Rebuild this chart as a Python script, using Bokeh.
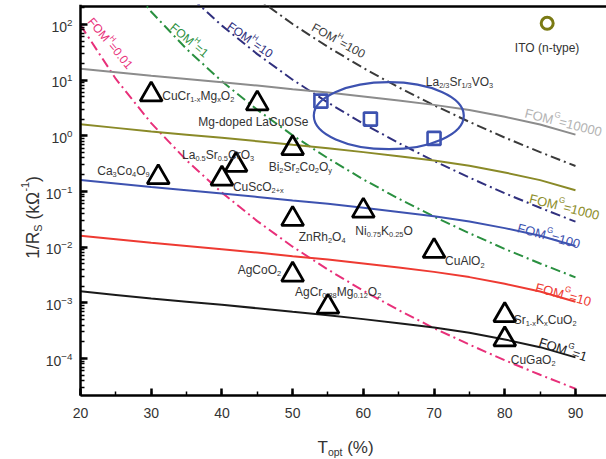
import math
from bokeh.plotting import figure
from bokeh.models import Range1d, LogTicker, SingleIntervalTicker, Label
from bokeh.embed import file_html
from bokeh.resources import INLINE

# ---------------- data ----------------
t_opt = [20, 25, 30, 35, 40, 45, 50, 55, 60, 65, 70, 75, 80, 85, 90]

# solid curves, FOM^G = const
fomg_10000 = [16.1, 13.9, 12.0, 10.5, 9.2, 8.0, 6.9, 6.0, 5.1, 4.3, 3.6, 2.9, 2.2, 1.6, 1.05]
fomg_1000 = [1.61, 1.39, 1.20, 1.05, 0.92, 0.80, 0.69, 0.60, 0.51, 0.43, 0.36, 0.29, 0.22, 0.16, 0.105]
fomg_100 = [0.161, 0.139, 0.120, 0.105, 0.092, 0.080, 0.069, 0.060, 0.051, 0.043, 0.036, 0.029, 0.022, 0.016, 0.0105]
fomg_10 = [0.0161, 0.0139, 0.0120, 0.0105, 0.0092, 0.0080, 0.0069, 0.0060, 0.0051, 0.0043, 0.0036, 0.0029, 0.0022, 0.0016, 0.00105]
fomg_1 = [0.00161, 0.00139, 0.00120, 0.00105, 0.00092, 0.00080, 0.00069, 0.00060, 0.00051, 0.00043, 0.00036, 0.00029, 0.00022, 0.00016, 0.000105]

# dash-dot curves, FOM^H = const
fomh_001 = [97.7, 10.5, 1.69, 0.363, 0.0954, 0.0294, 0.0102, 0.00395, 0.00165, 0.00074, 0.00035, 0.000178, 0.000093, 0.000051, 0.0000287]
fomh_1 = [9766, 1049, 169, 36.3, 9.54, 2.94, 1.02, 0.395, 0.165, 0.0743, 0.0354, 0.0178, 0.0093, 0.0051, 0.00287]
fomh_10 = [97660, 10490, 1694, 363, 95.4, 29.4, 10.2, 3.95, 1.65, 0.743, 0.354, 0.178, 0.093, 0.051, 0.0287]
fomh_100 = [976600, 104900, 16940, 3630, 954, 294, 102, 39.5, 16.5, 7.43, 3.54, 1.78, 0.93, 0.51, 0.287]

# p-type materials (triangles)
mat_names = ["CuCr1-xMgxO2", "Mg-doped LaCuOSe", "La0.5Sr0.5CrO3", "Ca3Co4O9", "CuScO2+x",
             "Bi2Sr2Co2Oy", "ZnRh2O4", "Ni0.75K0.25O", "CuAlO2", "AgCoO2",
             "AgCr0.88Mg0.12O2", "Sr1-xKxCuO2", "CuGaO2"]
mat_t = [30, 45, 42, 31, 40, 50, 50, 60, 70, 50, 55, 80, 80]
mat_g = [5.5, 3.8, 0.3, 0.18, 0.17, 0.6, 0.032, 0.045, 0.0085, 0.0032, 0.00085, 0.0006, 0.00022]

# La2/3Sr1/3VO3 (squares) and its enclosing ellipse
lsvo_t = [54, 61, 70]
lsvo_g = [4.2, 2.0, 0.9]
lsvo_center_t = [63.6]
lsvo_center_g = [2.3]

# ITO reference marker
ito_t = [86]
ito_g = [105]

x_ticks_interval = 10

# ---------------- layout ----------------
W_FIG, H_FIG = 606, 459
LEFT_PX, RIGHT_PX = 80, 606      # axis box edges in picture pixels
TOP_PX, BOT_PX = 4, 395
BORDER_PX = 6                     # top border line
PX_PER_T = 7.071
PX_PER_DEC = 55.67
Y2_PX = 24                        # picture y of 10^2

x_axis_start = 20.0
x_range_start = x_axis_start - LEFT_PX / PX_PER_T
x_end = x_axis_start + (RIGHT_PX - LEFT_PX) / PX_PER_T
y_end = 10 ** (2 + (Y2_PX - TOP_PX) / PX_PER_DEC)
y_border = 10 ** (2 + (Y2_PX - BORDER_PX) / PX_PER_DEC)
y_axis_start = 10 ** (2 - (BOT_PX - Y2_PX) / PX_PER_DEC)
y_range_start = 10 ** (2 - (H_FIG - Y2_PX) / PX_PER_DEC)


def px_to_data(X, Y):
    return x_axis_start + (X - LEFT_PX) / PX_PER_T, 10 ** (2 - (Y - Y2_PX) / PX_PER_DEC)


def data_to_px(t, g):
    return LEFT_PX + (t - x_axis_start) * PX_PER_T, Y2_PX + (2 - math.log10(g)) * PX_PER_DEC


FONT = "Liberation Sans"
NBSP = "\u00a0"

# Arial / Liberation Sans advance widths (1/1000 em)
WID = {' ': 278, NBSP: 278, '(': 333, ')': 333, '%': 889, '+': 584, '-': 333, '.': 278, '/': 278,
       '=': 584, 'A': 667, 'B': 667, 'C': 722, 'F': 611, 'G': 778, 'H': 722, 'I': 278, 'K': 667,
       'L': 556, 'M': 833, 'N': 722, 'O': 778, 'R': 722, 'S': 667, 'T': 611, 'V': 667, 'Z': 611,
       'a': 556, 'c': 500, 'd': 556, 'e': 556, 'g': 556, 'h': 556, 'i': 222, 'k': 500, 'l': 222,
       'n': 556, 'o': 556, 'p': 556, 'r': 333, 's': 500, 't': 278, 'u': 556, 'x': 500, 'y': 500,
       'Ω': 768}


def tw(s, size):
    return sum(WID.get(ch, 556) for ch in s) * size / 1000.0


def rich(p, X, Y, segs, size, color, angle=0.0, align="left", sub_shift=0.30):
    """Draw text with sub/superscripts. (X, Y) picture px of anchor (vertical body centre)."""
    a = math.radians(angle)
    small = round(size * 0.62, 1)
    widths = [tw(t, small if k != "n" else size) for t, k in segs]
    d = -sum(widths) / 2 if align == "center" else 0.0
    x0, y0 = px_to_data(X, Y)
    for (t, k), w in zip(segs, widths):
        s = 0.36 * size
        if k == "sub":
            s += sub_shift * size
        elif k == "sup":
            s -= 0.45 * size
        xo = d * math.cos(a) + s * math.sin(a)
        yo = d * math.sin(a) - s * math.cos(a)
        p.add_layout(Label(x=x0, y=y0, x_offset=xo, y_offset=yo, text=t, angle=a,
                           text_font=FONT, text_font_size=f"{small if k != 'n' else size}px",
                           text_color=color, text_align="left", text_baseline="alphabetic"))
        d += w


p = figure(width=W_FIG, height=H_FIG, output_backend="svg", toolbar_location=None,
           y_axis_type="log", x_range=Range1d(x_range_start, x_end),
           y_range=Range1d(y_range_start, y_end),
           min_border_left=0, min_border_right=0, min_border_top=TOP_PX, min_border_bottom=0)
p.outline_line_color = None
p.xgrid.grid_line_color = None
p.ygrid.grid_line_color = None
p.background_fill_color = "white"
p.border_fill_color = "white"

p.xaxis.ticker = SingleIntervalTicker(interval=x_ticks_interval, num_minor_ticks=2)
p.yaxis.ticker = LogTicker(num_minor_ticks=10)
p.xaxis.fixed_location = y_axis_start
p.yaxis.fixed_location = x_axis_start
p.xaxis.bounds = (x_axis_start, x_end)
p.yaxis.bounds = (y_axis_start, y_end)
for ax in (p.xaxis[0], p.yaxis[0]):
    ax.axis_line_width = 2.5
    ax.axis_line_color = "black"
    ax.major_tick_in = 7
    ax.major_tick_out = 0
    ax.major_tick_line_width = 2.5
    ax.minor_tick_in = 4
    ax.minor_tick_out = 0
    ax.minor_tick_line_width = 1.5
    ax.major_label_text_font = FONT
    ax.major_label_text_font_size = "14px"
    ax.major_label_text_color = "#333333"
p.xaxis.major_label_standoff = 12
p.yaxis.major_label_standoff = 8

# top border of the axis box
p.line([x_axis_start, x_end], [y_border, y_border], line_color="black", line_width=2.5)

# ---------------- curves ----------------
DASH = "10 4 2 4"
fomh = [(fomh_001, "#e8307a"), (fomh_1, "#2a9040"), (fomh_10, "#30307e"), (fomh_100, "#3a3a3a")]
for ys, c in fomh:
    p.line(t_opt, ys, line_color=c, line_width=2, line_dash=DASH)

fomg = [(fomg_10000, "#8c8c8c"), (fomg_1000, "#8a8a28"), (fomg_100, "#3d52b0"),
        (fomg_10, "#ee3a32"), (fomg_1, "#1a1a1a")]
for ys, c in fomg:
    p.line(t_opt, ys, line_color=c, line_width=2)

# ellipse and squares
p.ellipse(lsvo_center_t, lsvo_center_g, width=150, height=67, width_units="screen",
          height_units="screen", fill_color=None, line_color="#3d52b0", line_width=2.2)
p.scatter(lsvo_t, lsvo_g, marker="square", size=13, fill_color=None,
          line_color="#3d52b0", line_width=2.6)

# triangles
p.scatter(mat_t, mat_g, marker="triangle", size=22, fill_color=None,
          line_color="black", line_width=2.8)

# ITO
p.scatter(ito_t, ito_g, marker="circle", size=12, fill_color=None,
          line_color="#7a7a14", line_width=3)

# ---------------- curve labels ----------------
G_LABELS = [("10000", "#b4b4b4", 564, 117.5, -14), ("1000", "#8d8d2a", 565, 202, -14),
            ("100", "#3d52b0", 549.5, 231, -15), ("10", "#ee3a32", 564, 289.5, -15),
            ("1", "#222222", 564, 344.5, -18)]
for val, c, X, Y, ang in G_LABELS:
    rich(p, X, Y, [("FOM", "n"), ("G", "sup"), ("=" + val, "n")], 13, c, ang, "center")

H_LABELS = [("0.01", "#e8307a", 113, 40, -50), ("1", "#2a9040", 191.5, 36.5, -40),
            ("10", "#30307e", 252, 36, -35), ("100", "#3a3a3a", 340, 36.5, -29)]
for val, c, X, Y, ang in H_LABELS:
    rich(p, X, Y, [("FOM", "n"), ("H", "sup"), ("=" + val, "n")], 12, c, ang, "center")

# ---------------- material labels ----------------
LBL = "#333333"
mat_segs = [
    [("CuCr", "n"), ("1-x", "sub"), ("Mg", "n"), ("x", "sub"), ("O", "n"), ("2", "sub")],
    [("Mg-doped LaCuOSe", "n")],
    [("La", "n"), ("0.5", "sub"), ("Sr", "n"), ("0.5", "sub"), ("CrO", "n"), ("3", "sub")],
    [("Ca", "n"), ("3", "sub"), ("Co", "n"), ("4", "sub"), ("O", "n"), ("9", "sub")],
    [("CuScO", "n"), ("2+x", "sub")],
    [("Bi", "n"), ("2", "sub"), ("Sr", "n"), ("2", "sub"), ("Co", "n"), ("2", "sub"), ("O", "n"), ("y", "sub")],
    [("ZnRh", "n"), ("2", "sub"), ("O", "n"), ("4", "sub")],
    [("Ni", "n"), ("0.75", "sub"), ("K", "n"), ("0.25", "sub"), ("O", "n")],
    [("CuAlO", "n"), ("2", "sub")],
    [("AgCoO", "n"), ("2", "sub")],
    [("AgCr", "n"), ("0.88", "sub"), ("Mg", "n"), ("0.12", "sub"), ("O", "n"), ("2", "sub")],
    [("Sr", "n"), ("1-x", "sub"), ("K", "n"), ("x", "sub"), ("CuO", "n"), ("2", "sub")],
    [("CuGaO", "n"), ("2", "sub")],
]
# label anchor offsets from marker (px)
mat_off = [(11, -3), (-59, 14), (-54, -14), (-61, -11), (11, 4), (-24, 14), (6, 14),
           (-8, 16), (11, 6), (-55, -9), (-33, -19), (9, 0), (6, 16)]
for t, g, segs, (ox, oy) in zip(mat_t, mat_g, mat_segs, mat_off):
    X, Y = data_to_px(t, g)
    rich(p, X + ox, Y + oy, segs, 12, LBL)

cx, cy = data_to_px(lsvo_center_t[0], lsvo_center_g[0])
rich(p, cx + 37, cy - 38, [("La", "n"), ("2/3", "sub"), ("Sr", "n"), ("1/3", "sub"), ("VO", "n"), ("3", "sub")], 12, LBL)

ix, iy = data_to_px(ito_t[0], ito_g[0])
rich(p, ix, iy + 20, [("ITO (n-type)", "n")], 12, LBL, 0, "center")

# ---------------- axis titles ----------------
rich(p, 317, 441, [("T", "n"), ("opt", "sub"), (NBSP + "(%)", "n")], 17, "#333333", sub_shift=0.24)
rich(p, 26, 217, [("1/R", "n"), ("S", "sub"), (NBSP + "(kΩ", "n"), ("-1", "sup"), (")", "n")], 17.5,
     "#333333", 90, "center")

open("out.html", "w").write(file_html(p, INLINE))
